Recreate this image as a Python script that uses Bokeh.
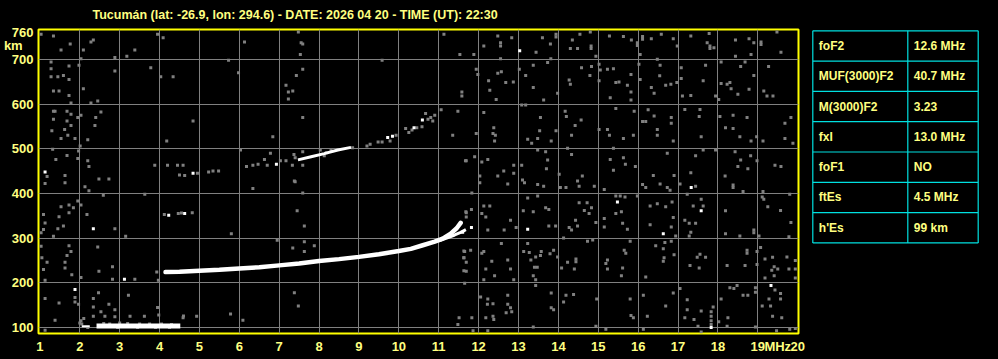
from bokeh.plotting import figure
from bokeh.models import Range1d, FixedTicker, Title
from bokeh.layouts import row
from bokeh.embed import file_html
from bokeh.resources import INLINE
from bokeh.core.properties import value

# ---------------- data ----------------
title_text = "Tucumán (lat: -26.9, lon: 294.6) - DATE: 2026 04 20 - TIME (UT): 22:30"
x_ticks = list(range(1, 21))
y_ticks = [100, 200, 300, 400, 500, 600, 700, 760]
x_unit_tick, x_unit_text = 19.5, "MHz"
y_unit_tick, y_unit_text = 731, "km\u00a0\u00a0\u00a0"

# F-layer trace (ordinary) and its extraordinary branch
fo_f = [4.15, 4.5, 5.0, 5.5, 6.0, 6.5, 7.0, 7.5, 8.0, 8.5, 9.0, 9.5, 10.0, 10.3, 10.6, 10.9, 11.1, 11.3, 11.45, 11.55]
fo_h = [224, 225, 227, 229, 232, 235, 239, 243, 249, 253, 258, 264, 271, 276, 284, 292, 299, 310, 322, 334]
fx_f = [11.0, 11.2, 11.4, 11.55, 11.68]
fx_h = [294, 300, 307, 313, 319]

# sporadic E trace
es_f = [2.42, 4.52]
es_h = [103.5, 103.5]
es2_f = [2.05, 2.25]
es2_h = [103, 103]

# second hop F (white part)
f2_f = [7.47, 7.8, 8.13, 8.47, 8.8]
f2_h = [475, 482, 489, 497, 503]

# faint echoes (grey)
faint_pts = [(6.18, 460), (6.34, 463), (6.47, 465), (6.63, 476), (6.7, 463), (6.78, 490), (7.03, 473), (7.17, 473),
             (7.37, 487), (7.4, 480), (7.33, 463), (7.59, 463), (8.03, 497), (8.18, 491), (8.13, 484), (8.3, 497),
             (8.84, 502), (9.2, 506), (9.28, 510), (9.48, 515), (9.58, 515), (9.78, 517), (9.93, 530), (10.17, 545),
             (10.25, 536), (10.33, 542), (10.45, 547), (10.58, 549), (10.67, 579), (10.73, 566), (10.85, 562),
             (10.8, 570), (10.9, 575),
             (4.5, 441), (4.63, 440), (4.95, 445), (5.23, 448), (5.34, 450), (5.48, 450),
             (4.12, 353), (4.47, 355), (4.55, 356), (4.82, 357),
             (2.05, 108), (2.2, 100), (2.6, 109), (2.75, 108), (3.0, 110), (3.2, 109), (3.5, 108), (3.75, 108),
             (4.05, 108), (4.3, 107), (2.95, 100), (3.45, 100), (3.9, 100), (4.25, 100)]

white_pts = [(13.03, 719), (16.63, 310), (17.33, 413), (15.48, 381), (17.58, 361), (13.23, 320), (11.82, 324),
             (11.6, 313), (19.33, 194), (17.83, 100), (1.13, 448), (2.34, 321), (1.88, 185), (3.12, 208),
             (9.72, 525), (9.84, 528), (10.38, 547), (10.59, 564), (6.93, 465), (4.84, 445), (4.23, 351), (4.63, 355)]

noise_ne_top = [(12.48, 752), (12.55, 737), (12.55, 730), (12.13, 730), (12.83, 748), (11.88, 711), (12.55, 701),
                (13.44, 716), (13.6, 748), (13.94, 756), (13.94, 750), (13.8, 734), (13.81, 701), (14.3, 724),
                (14.48, 724), (14.35, 743), (14.54, 756), (14.82, 730), (14.82, 724), (14.8, 761), (14.94, 707),
                (15.28, 752), (15.63, 751), (15.83, 743), (15.98, 737), (15.98, 731), (16.11, 751), (16.11, 745),
                (16.05, 711), (16.33, 746), (16.58, 756), (16.48, 700), (16.88, 746), (16.98, 730), (17.32, 752),
                (17.78, 758), (17.73, 737), (17.8, 730), (17.8, 724), (17.9, 726), (18.44, 743), (18.44, 707),
                (18.78, 746), (18.9, 737), (19.08, 739), (19.08, 733), (19.48, 761), (19.58, 716), (18.83, 711)]

noise_ne_600 = [(11.94, 678), (11.98, 666), (12.25, 652), (12.28, 631), (12.44, 610), (12.48, 669), (12.57, 672),
                (12.68, 648), (12.87, 649), (13.02, 678), (13.18, 664), (13.37, 687), (13.37, 637), (13.63, 609),
                (13.73, 693), (13.98, 624), (14.27, 654), (14.3, 644), (14.58, 681), (14.79, 664), (14.83, 684),
                (15.02, 689), (15.05, 676), (15.23, 678), (15.38, 679), (15.02, 652), (15.3, 614), (15.44, 648),
                (15.52, 649), (15.73, 642), (15.82, 666), (15.82, 627), (15.82, 609), (16.02, 689), (16.05, 655),
                (16.33, 637), (16.4, 624), (16.54, 663), (16.55, 687), (16.69, 642), (16.82, 644), (16.97, 648),
                (17.08, 657), (17.11, 618), (17.08, 681), (17.32, 619), (17.63, 652), (17.69, 687), (17.94, 618),
                (18.02, 610), (18.08, 694), (18.08, 646), (18.23, 644), (18.3, 648), (18.33, 634), (18.5, 622),
                (18.68, 694), (18.57, 684), (18.78, 633), (18.9, 664), (19.15, 629), (19.23, 618), (19.38, 618),
                (19.27, 684)]

noise_ne_500 = [(12.13, 581), (12.38, 547), (12.36, 534), (12.42, 530), (12.4, 517), (11.94, 534), (13.08, 598),
                (13.18, 598), (13.55, 570), (13.53, 540), (13.23, 521), (13.33, 512), (13.48, 523), (13.82, 517),
                (13.94, 540), (14.17, 584), (14.2, 572), (14.57, 564), (14.42, 552), (14.33, 530), (15.02, 543),
                (15.23, 543), (15.28, 530), (15.44, 590), (15.63, 523), (15.9, 584), (15.88, 530), (16.11, 561),
                (16.19, 561), (16.25, 587), (16.4, 573), (16.48, 543), (16.48, 530), (16.83, 570), (16.83, 557),
                (16.88, 517), (17.17, 588), (17.55, 588), (17.53, 572), (17.58, 527), (18.05, 572), (18.19, 547),
                (18.38, 575), (18.38, 545), (18.55, 527), (18.73, 570), (18.83, 517), (18.97, 527), (19.13, 517),
                (19.68, 557), (19.68, 523), (19.83, 570), (19.88, 512)]

noise_ne_400 = [(11.69, 473), (11.9, 482), (12.08, 470), (12.23, 476), (12.03, 439), (12.48, 439), (12.63, 450),
                (12.88, 463), (12.88, 445), (13.08, 463), (13.1, 430), (13.48, 497), (13.68, 493), (13.73, 475),
                (13.7, 455), (14.02, 443), (14.23, 501), (14.33, 487), (14.48, 428), (14.6, 439), (15.38, 501),
                (15.3, 476), (15.63, 480), (15.68, 465), (15.38, 452), (15.93, 460), (16.38, 440), (16.73, 490),
                (16.9, 440), (17.32, 446), (17.44, 484), (17.63, 497), (17.94, 497), (18.18, 439), (18.43, 493),
                (18.57, 475), (18.5, 460), (18.75, 455), (18.82, 484), (18.98, 473), (19.43, 463), (19.58, 460),
                (12.03, 424), (12.73, 421), (13.15, 424), (13.48, 420), (13.63, 416), (14.05, 413), (14.19, 413),
                (14.52, 416), (14.9, 416), (15.15, 409), (16.11, 420), (16.19, 413), (16.55, 421), (16.73, 413),
                (16.8, 407), (17.05, 421), (17.44, 416), (18.38, 419), (18.38, 413), (18.63, 404), (19.13, 404)]

noise_se_300 = [(11.83, 401), (12.13, 372), (12.28, 372), (12.08, 355), (12.18, 347), (11.69, 357), (11.69, 347),
                (11.82, 364), (13.23, 390), (13.48, 394), (13.12, 361), (13.37, 359), (13.76, 364), (13.68, 368),
                (13.76, 327), (13.93, 327), (12.8, 340), (12.94, 324), (12.64, 318), (12.23, 318), (14.27, 324),
                (14.48, 327), (14.33, 318), (14.43, 340), (14.52, 379), (14.72, 379), (14.65, 362), (14.77, 355),
                (14.83, 368), (14.94, 335), (15.44, 394), (15.55, 394), (15.67, 392), (15.44, 355), (15.58, 359),
                (15.15, 344), (15.15, 325), (15.61, 333), (15.73, 320), (15.98, 394), (16.3, 372), (16.48, 377),
                (16.69, 370), (16.85, 381), (16.3, 330), (16.88, 346), (16.83, 325), (16.94, 305), (17.23, 398),
                (17.38, 372), (17.58, 387), (17.63, 372), (17.17, 340), (17.28, 333), (17.44, 333), (17.32, 313),
                (17.28, 305), (18.19, 361), (18.19, 310), (18.55, 305), (18.9, 318), (18.9, 312), (19.03, 305),
                (19.11, 392), (19.25, 370), (19.15, 387), (19.57, 362), (19.8, 398), (19.83, 335), (19.78, 303)]

noise_se_200 = [(11.65, 270), (11.8, 273), (11.63, 256), (11.69, 246), (11.69, 226), (12.13, 270), (12.08, 266),
                (12.33, 248), (12.18, 231), (12.13, 207), (12.4, 216), (12.57, 288), (12.73, 251), (12.8, 231),
                (12.88, 207), (13.13, 270), (13.27, 268), (13.23, 288), (13.43, 258), (13.57, 270), (13.55, 261),
                (13.47, 235), (13.4, 235), (13.31, 251), (13.37, 216), (13.43, 207), (13.79, 265), (13.88, 273),
                (13.98, 258), (14.13, 300), (14.08, 233), (14.44, 253), (14.44, 247), (14.4, 231), (14.23, 246),
                (14.73, 293), (14.86, 296), (15.19, 243), (15.23, 251), (15.23, 231), (15.65, 273), (15.69, 266),
                (15.61, 233), (15.58, 216), (15.8, 293), (16.19, 213), (16.44, 283), (16.67, 290), (16.83, 293),
                (16.63, 276), (16.65, 256), (16.63, 248), (16.9, 263), (17.3, 239), (17.48, 257), (17.55, 264),
                (17.69, 257), (17.53, 233), (18.23, 239), (18.68, 239), (18.73, 273), (18.73, 266), (18.98, 270),
                (18.98, 241), (19.07, 279), (19.18, 253), (19.37, 257), (19.41, 236), (19.35, 228), (19.5, 231),
                (19.41, 216), (19.18, 211), (19.73, 258), (19.78, 231), (19.94, 250), (19.94, 231), (19.94, 211)]

noise_se_100 = [(11.65, 199), (12.05, 168), (12.23, 164), (12.22, 152), (12.36, 153), (12.73, 172), (12.73, 152),
                (12.8, 144), (12.69, 133), (12.83, 135), (12.36, 125), (12.18, 122), (12.38, 118), (11.83, 122),
                (11.86, 93), (12.23, 93), (13.43, 194), (13.82, 177), (13.82, 144), (13.88, 140), (13.37, 101),
                (14.19, 172), (14.38, 174), (14.13, 157), (14.96, 164), (14.94, 103), (15.19, 96), (15.8, 164),
                (15.82, 127), (15.88, 122), (16.13, 172), (16.23, 125), (16.13, 96), (16.69, 148), (16.88, 177),
                (17.05, 187), (17.23, 162), (17.23, 140), (17.17, 122), (17.4, 118), (17.58, 137), (17.5, 103),
                (17.58, 90), (17.83, 135), (17.83, 125), (17.83, 115), (17.83, 107), (17.88, 146), (18.02, 113),
                (18.08, 164), (18.25, 122), (18.23, 103), (18.3, 189), (18.4, 187), (18.48, 194), (18.63, 172),
                (18.75, 172), (18.94, 189), (18.94, 179), (18.94, 101), (19.11, 148), (19.28, 164), (19.32, 148),
                (19.43, 184), (19.57, 176), (19.57, 164), (19.37, 125), (19.6, 122), (19.47, 93), (19.8, 96),
                (19.94, 98)]

noise_w_top = [(1.03, 756), (1.34, 752), (1.76, 734), (1.53, 721), (2.09, 721), (2.28, 739), (2.34, 743), (2.03, 701),
               (1.73, 685), (1.28, 694), (1.28, 679), (1.98, 687), (1.28, 661), (1.45, 661), (1.59, 664), (1.73, 655),
               (1.34, 629), (1.48, 629), (2.09, 634), (1.73, 619), (2.28, 602), (2.45, 607), (1.78, 602), (1.34, 584),
               (1.34, 566), (1.38, 584), (1.68, 584), (1.78, 577), (1.95, 570), (2.03, 575), (2.53, 582), (2.4, 570),
               (1.68, 562), (1.78, 552), (1.62, 543), (1.3, 540), (1.53, 523), (1.7, 530), (1.88, 523), (2.2, 520),
               (2.38, 552), (2.01, 506), (1.97, 495), (1.32, 499), (1.68, 485), (1.4, 476), (1.95, 478), (2.2, 473),
               (2.23, 460), (1.18, 438), (1.63, 440), (2.48, 432), (2.73, 432), (2.88, 704), (2.88, 674), (3.18, 707),
               (3.38, 721), (3.78, 681), (3.95, 756), (4.09, 748), (4.03, 661), (4.34, 661), (4.84, 562), (4.18, 517),
               (3.88, 463), (4.2, 463), (4.45, 463), (4.59, 463), (5.73, 698), (5.98, 670), (6.13, 739), (6.03, 497),
               (6.84, 527), (7.48, 761), (7.55, 737), (7.59, 734), (7.53, 711), (7.59, 678), (7.43, 664), (7.17, 642),
               (7.23, 627), (7.34, 629), (7.23, 611), (7.59, 570), (7.38, 428), (7.59, 493), (9.58, 698), (11.35, 530),
               (11.06, 587), (11.48, 584), (11.53, 711), (11.13, 756), (11.58, 627), (11.58, 618), (11.67, 473)]

noise_w_low = [(1.13, 422), (1.63, 424), (2.13, 415), (2.23, 406), (2.59, 396), (3.63, 398), (6.34, 411), (7.59, 401),
               (7.4, 426), (1.53, 370), (1.73, 374), (1.84, 368), (1.95, 383), (2.03, 374), (1.09, 353), (1.13, 334),
               (1.09, 319), (1.03, 312), (1.34, 304), (1.48, 348), (1.73, 357), (2.18, 353), (1.59, 327), (1.45, 321),
               (2.88, 321), (3.15, 304), (1.03, 282), (1.05, 256), (1.18, 246), (1.09, 230), (1.73, 283), (1.78, 270),
               (1.68, 261), (1.63, 246), (1.63, 233), (1.8, 218), (2.03, 212), (2.45, 280), (2.48, 226), (2.82, 236),
               (2.82, 208), (3.38, 208), (1.13, 206), (1.13, 165), (1.48, 155), (1.88, 167), (1.88, 157), (1.97, 152),
               (2.34, 165), (2.34, 146), (2.47, 178), (2.73, 152), (2.88, 140), (2.53, 135), (2.63, 125), (2.88, 124),
               (2.34, 125), (2.03, 115), (3.22, 172), (3.26, 125), (3.62, 125), (3.95, 145), (3.98, 128), (4.59, 122),
               (4.93, 125), (5.8, 310), (5.78, 130), (6.09, 116), (6.95, 295), (7.45, 361), (7.63, 327), (7.63, 292),
               (7.63, 270), (7.88, 283), (7.34, 278), (7.38, 178), (7.48, 148), (11.68, 359), (11.63, 271),
               (11.63, 256), (11.63, 227), (11.51, 122), (11.48, 107), (3.93, 224), (3.97, 206), (1.38, 116),
               (1.13, 94), (2.0, 110), (2.1, 120), (4.6, 126)]

table_names = ["foF2", "MUF(3000)F2", "M(3000)F2", "fxI", "foF1", "ftEs", "h'Es"]
table_values = ["12.6 MHz", "40.7 MHz", "3.23", "13.0 MHz", "NO", "4.5 MHz", "99 km"]

# ---------------- styles ----------------
LY = "#ffff80"
FRAME = "#ffff00"
GREY = "#808080"
CYAN = "#00e0e0"
FONT = "Liberation Sans"
MAIN_W = 806

p = figure(width=MAIN_W, height=359, x_range=Range1d(0.965, 20.02), y_range=Range1d(86.6, 766.7),
           output_backend="svg", toolbar_location=None, title=None,
           min_border_left=36, min_border_right=MAIN_W - 798, min_border_top=29, min_border_bottom=26)
p.background_fill_color = "black"
p.border_fill_color = "black"
p.outline_line_color = FRAME
p.outline_line_width = 2

p.add_layout(Title(text=title_text, align="left", offset=54, standoff=12, vertical_align="top",
                   text_color=LY, text_font=FONT, text_font_style="bold", text_font_size="12.5px"), "above")

for ax in (p.xaxis[0], p.yaxis[0]):
    ax.axis_line_color = None
    ax.major_tick_line_color = None
    ax.minor_tick_line_color = None
    ax.major_tick_out = 0
    ax.major_tick_in = 0
    ax.major_label_text_color = LY
    ax.major_label_text_font = FONT
    ax.major_label_text_font_style = "bold"
    ax.major_label_text_font_size = "13px"
p.xaxis.major_label_standoff = 5
p.yaxis.major_label_standoff = 5
p.xaxis.ticker = FixedTicker(ticks=x_ticks + [x_unit_tick])
p.xaxis.major_label_overrides = {x_unit_tick: x_unit_text}
p.yaxis.ticker = FixedTicker(ticks=y_ticks + [y_unit_tick])
p.yaxis.major_label_overrides = {y_unit_tick: y_unit_text}

p.xgrid.ticker = FixedTicker(ticks=x_ticks[1:-1])
p.ygrid.ticker = FixedTicker(ticks=y_ticks[:-1])
p.xgrid.grid_line_color = GREY
p.ygrid.grid_line_color = GREY
p.xgrid.grid_line_width = 1
p.ygrid.grid_line_width = 1


def unzip(pts):
    return [a for a, b in pts], [b for a, b in pts]


all_noise = (noise_ne_top + noise_ne_600 + noise_ne_500 + noise_ne_400 + noise_se_300 +
             noise_se_200 + noise_se_100 + noise_w_top + noise_w_low + faint_pts)
nf, nh = unzip(all_noise)
p.scatter(nf, nh, marker="square", size=3, fill_color=GREY, line_color=None)
wf, wh = unzip(white_pts)
p.scatter(wf, wh, marker="square", size=3, fill_color="white", line_color=None)

p.line(fo_f, fo_h, line_color="white", line_width=4.5, line_cap="round")
p.line(fx_f, fx_h, line_color="white", line_width=3)
p.line(es_f, es_h, line_color="white", line_width=5)
p.line(es2_f, es2_h, line_color="white", line_width=2)
p.line(f2_f, f2_h, line_color="white", line_width=3)

# ---------------- parameter table (coordinates = window pixels) ----------------
t = figure(width=998 - MAIN_W, height=359, x_range=Range1d(MAIN_W, 998), y_range=Range1d(333, 29),
           output_backend="svg", toolbar_location=None, title=None,
           min_border_left=0, min_border_right=0, min_border_top=29, min_border_bottom=26,
           x_axis_location=None, y_axis_location=None)
t.background_fill_color = "black"
t.border_fill_color = "black"
t.outline_line_color = None
t.grid.visible = False

left, mid, right, top, rh = 812.3, 907.3, 977.7, 30.3, 30.3
n = len(table_names)
ys = [top + i * rh for i in range(n + 1)]
t.segment(x0=[left] * (n + 1), y0=ys, x1=[right] * (n + 1), y1=ys, line_color=CYAN, line_width=1.2)
t.segment(x0=[left, mid, right], y0=[top] * 3, x1=[left, mid, right], y1=[ys[-1]] * 3,
          line_color=CYAN, line_width=1.2)
centers = [top + (i + 0.5) * rh for i in range(n)]
t.text(x=[left + 6] * n, y=centers, text=table_names, text_color=LY, text_font=value(FONT),
       text_font_style="bold", text_font_size="12px", text_baseline="middle", text_align="left")
t.text(x=[mid + 6] * n, y=centers, text=table_values, text_color=LY, text_font=value(FONT),
       text_font_style="bold", text_font_size="12px", text_baseline="middle", text_align="left")

layout = row(p, t, styles={"background-color": "black"})
open("out.html", "w").write(file_html(layout, INLINE))
